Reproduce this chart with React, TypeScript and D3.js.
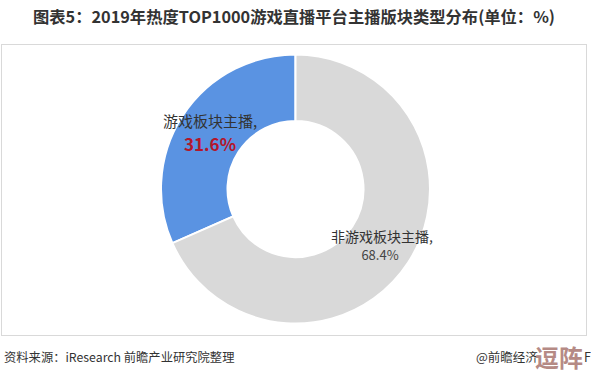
import React from "react";
import * as d3 from "d3";

const categories = ["游戏板块主播", "非游戏板块主播"];
const values = [31.6, 68.4];
const colors = ["#5A93E2", "#D9D9D9"];
const title = "图表5：2019年热度TOP1000游戏直播平台主播版块类型分布(单位：%)";
const source = "资料来源：iResearch 前瞻产业研究院整理";

const W = 591;
const H = 377;
const FONT = "'Noto Sans CJK SC', 'Microsoft YaHei', sans-serif";

export default function App() {
  const cx = 295.5;
  const cy = 189;
  const outerR = 134.5;
  const innerR = 68;

  const pie = d3
    .pie<number>()
    .sort(null)
    .startAngle(0)
    .endAngle(-2 * Math.PI)
    .value((d) => d);
  const arcs = pie(values);
  const arcGen = d3.arc<d3.PieArcDatum<number>>().innerRadius(innerR).outerRadius(outerR);

  return (
    <div style={{ position: "absolute", left: 0, top: 0 }}>
      <svg width={W} height={H} style={{ display: "block", background: "#fff" }}>
        <text
          x={294}
          y={23}
          textAnchor="middle"
          fontFamily={FONT}
          fontWeight="bold"
          fontSize={16.3}
          fill="#333"
        >
          {title}
        </text>
        <rect x={1.5} y={44.5} width={585} height={291} fill="none" stroke="#D9D9D9" strokeWidth={1} />
        <g transform={`translate(${cx},${cy})`}>
          {arcs.map((a, i) => (
            <path key={i} d={arcGen(a) || ""} fill={colors[i]} stroke="#fff" strokeWidth={2} />
          ))}
        </g>
        <text x={210} y={127} textAnchor="middle" fontFamily={FONT} fontSize={15} fill="#333">
          {categories[0]},
        </text>
        <text
          x={210}
          y={151}
          textAnchor="middle"
          fontFamily={FONT}
          fontSize={17}
          fontWeight="bold"
          fill="#B4162B"
        >
          {values[0].toFixed(1)}%
        </text>
        <text x={382} y={242} textAnchor="middle" fontFamily={FONT} fontSize={14} fill="#333">
          {categories[1]},
        </text>
        <text x={380} y={260} textAnchor="middle" fontFamily={FONT} fontSize={13} fill="#444">
          {values[1].toFixed(1)}%
        </text>
        <text x={4} y={362} fontFamily={FONT} fontSize={12.3} fill="#333">
          {source}
        </text>
        <text x={476} y={362} fontFamily={FONT} fontSize={12.5} fill="#333">
          @前瞻经济
        </text>
        <text x={535} y={367} fontFamily={FONT} fontSize={24} fontWeight="bold" fill="#B58A85">
          逗阵
        </text>
        <text x={584} y={362} fontFamily={FONT} fontSize={12.5} fill="#333">
          F
        </text>
      </svg>
    </div>
  );
}
